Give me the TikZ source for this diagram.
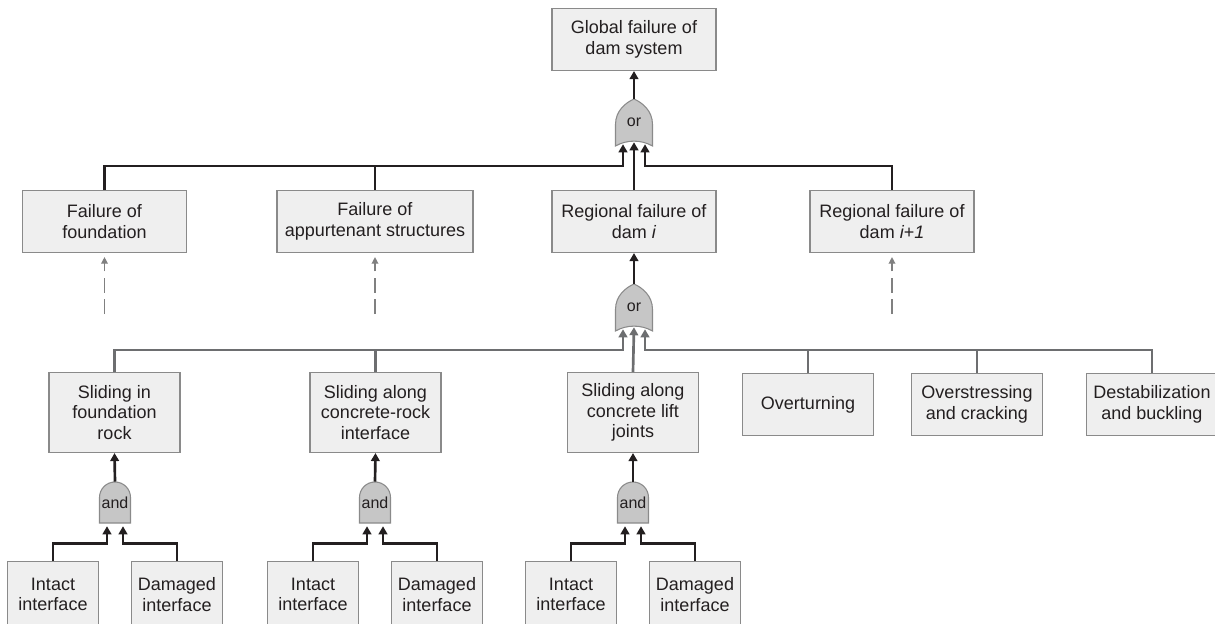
\documentclass[tikz,border=0pt]{standalone}
\usepackage{fontspec}
\setmainfont{Liberation Sans}
\usetikzlibrary{arrows.meta,calc}

\definecolor{boxfill}{HTML}{EFEFEF}
\definecolor{boxline}{HTML}{8A8A8A}
\definecolor{gatefill}{HTML}{C6C6C6}
\definecolor{inkdark}{HTML}{231F20}
\definecolor{inkgray}{HTML}{6D6E70}
\definecolor{subgray}{HTML}{808080}

\tikzset{
  box/.style={draw=boxline, fill=boxfill, line width=0.8pt, align=center,
    text=inkdark, inner sep=0pt, anchor=north,
    font=\fontsize{13.5}{15.5}\selectfont},
  headbox/.style={box, minimum width=123pt, minimum height=46.5pt},
  leafbox/.style={box, minimum width=68.25pt, minimum height=49.5pt},
  modebox/.style={box, minimum width=98.25pt, minimum height=60pt},
  gatelabel/.style={inner sep=0pt, text=inkdark, font=\fontsize{12}{14}\selectfont},
  wire/.style={draw=inkdark, line width=2pt, -{Triangle[length=6pt,width=6.5pt]}},
  graywire/.style={wire, draw=inkgray, -{Triangle[length=6pt,width=6.5pt,fill=inkgray]}},
  subarrow/.style={draw=subgray, line width=1pt, dash pattern=on 11pt off 5pt,
    -{Triangle[length=5pt,width=5pt]}},
  orgate/.pic={
    \draw[boxline, fill=gatefill, line width=0.8pt]
      (-18.5,23.5) .. controls (-7,17) and (7,17) .. (18.5,23.5) -- (18.5,2)
      .. controls (18.5,-12) and (8,-20) .. (0,-23.5)
      .. controls (-8,-20) and (-18.5,-12) .. (-18.5,2) -- cycle;
  },
  andgate/.pic={
    \draw[boxline, fill=gatefill, line width=0.8pt]
      (-15.5,20.5) -- (15.5,20.5) -- (15.5,-5)
      .. controls (15.5,-13.6) and (8.6,-20.5) .. (0,-20.5)
      .. controls (-8.6,-20.5) and (-15.5,-13.6) .. (-15.5,-5) -- cycle;
  }
}

\begin{document}
\begin{tikzpicture}[x=0.75pt, y=-0.75pt]
  \useasboundingbox (0,0) rectangle (1215,624);

  % top event and its or-gate
  \node[headbox] (top) at (634,8) {Global failure of\\dam system};
  \pic at (634,122.5) {orgate};
  \node[gatelabel, minimum width=27.75pt, minimum height=35.25pt] (orA) at (634,122.5) {or};

  % second level
  \node[headbox] (fnd) at (104.5,190) {Failure of\\foundation};
  \node[headbox, minimum width=147pt] (app) at (375,190) {Failure of\\appurtenant structures};
  \node[headbox] (reg) at (634,190) {Regional failure of\\dam \textit{i}};
  \node[headbox] (regn) at (892,190) {Regional failure of\\dam \textit{i+1}};

  \coordinate (busA) at (0,166);
  \coordinate (orA-l) at ($(orA.south)+(-11,-2)$);
  \coordinate (orA-m) at ($(orA.south)+(0,-4)$);
  \coordinate (orA-r) at ($(orA.south)+(11,-2)$);

  \draw[wire] (orA.north) -- (top.south);
  \draw[wire] (fnd.north) |- (orA-l |- busA) -- (orA-l);
  \draw[wire, -] (app.north) -- (app.north |- busA);
  \draw[wire] (reg.north) -- (orA-m);
  \draw[wire] (regn.north) |- (orA-r |- busA) -- (orA-r);

  % branches not developed further
  \coordinate (fnd-sub) at ($(fnd.south)+(0,61)$);
  \coordinate (app-sub) at ($(app.south)+(0,61)$);
  \coordinate (regn-sub) at ($(regn.south)+(0,61)$);
  \draw[subarrow] (fnd-sub) -- ([yshift=-3pt]fnd.south);
  \draw[subarrow] (app-sub) -- ([yshift=-3pt]app.south);
  \draw[subarrow] (regn-sub) -- ([yshift=-3pt]regn.south);

  % failure modes of dam i
  \pic at (634,307.5) {orgate};
  \node[gatelabel, minimum width=27.75pt, minimum height=35.25pt] (orB) at (634,307.5) {or};
  \draw[wire] (orB.north) -- (reg.south);

  \node[modebox] (rock) at (114.5,372) {Sliding in\\foundation\\rock};
  \node[modebox] (crk) at (375.5,372) {Sliding along\\concrete-rock\\interface};
  \node[modebox] (lift) at (633,372) {Sliding along\\concrete lift\\joints};
  \node[modebox, minimum height=46.5pt] (ovt) at (808,373) {Overturning};
  \node[modebox, minimum height=46.5pt] (ost) at (977,373) {Overstressing\\and cracking};
  \node[modebox, minimum height=46.5pt] (dst) at (1152,373) {Destabilization\\and buckling};

  \coordinate (busB) at (0,350);
  \coordinate (orB-l) at ($(orB.south)+(-11,-2)$);
  \coordinate (orB-m) at ($(orB.south)+(0,-4)$);
  \coordinate (orB-r) at ($(orB.south)+(11,-2)$);

  \draw[graywire] (rock.north) |- (orB-l |- busB) -- (orB-l);
  \draw[graywire, -] (crk.north) -- (crk.north |- busB);
  \draw[graywire] (lift.north) -- (orB-m);
  \draw[graywire] (dst.north) |- (orB-r |- busB) -- (orB-r);
  \draw[graywire, -] (ovt.north) -- (ovt.north |- busB);
  \draw[graywire, -] (ost.north) -- (ost.north |- busB);

  % and-gates over intact and damaged interfaces
  \foreach \g/\x/\up in {A/115/rock, B/375/crk, C/633/lift} {
    \pic at (\x,502.5) {andgate};
    \node[gatelabel, minimum width=23.25pt, minimum height=30.75pt] (and\g) at (\x,502.5) {and};
    \node[leafbox] (int\g) at (\x-62,561) {Intact\\interface};
    \node[leafbox] (dmg\g) at (\x+62,561) {Damaged\\interface};
    \draw[wire] (and\g.north) -- (\up.south);
    \draw[wire] (int\g.north) |- ($(and\g.south)+(-8,20)$) -- ($(and\g.south)+(-8,3)$);
    \draw[wire] (dmg\g.north) |- ($(and\g.south)+(8,20)$) -- ($(and\g.south)+(8,3)$);
  }
\end{tikzpicture}
\end{document}
